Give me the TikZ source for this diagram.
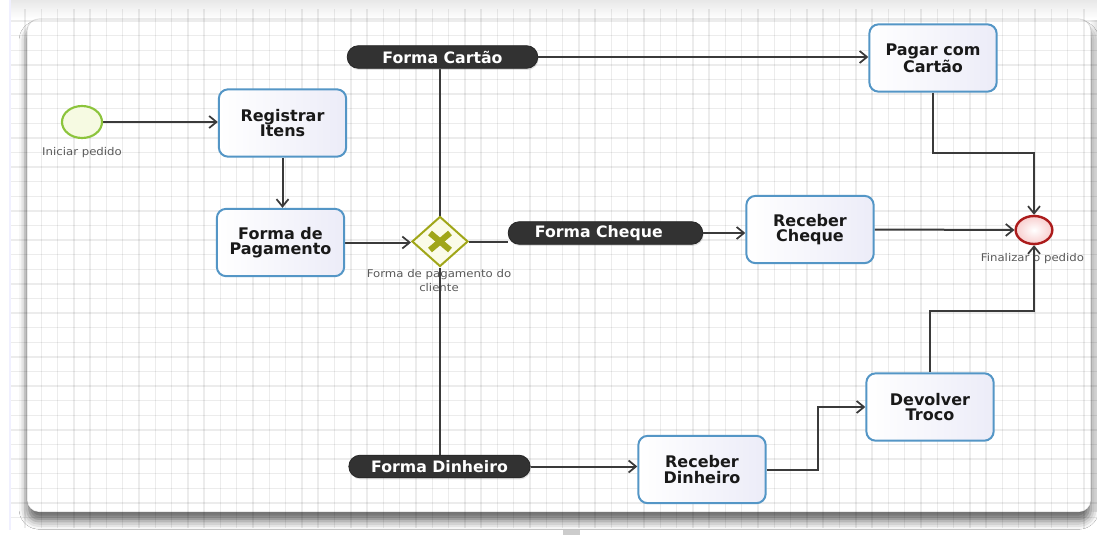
\documentclass[tikz,border=0pt]{standalone}
\usepackage{fontspec}
\setmainfont{DejaVu Sans}
\newfontfamily\lblfont[FakeStretch=1.1]{DejaVu Sans}
\usetikzlibrary{arrows.meta,shapes.geometric,shadows,shadows.blur,fadings,calc}

\definecolor{taskblue}{RGB}{84,150,198}
\definecolor{taskfill}{RGB}{236,236,248}
\definecolor{pillgray}{RGB}{50,50,50}
\definecolor{linegray}{RGB}{58,58,58}
\definecolor{gwolive}{RGB}{160,166,24}
\definecolor{gwfill}{RGB}{251,251,232}
\definecolor{startgreen}{RGB}{140,196,60}
\definecolor{startfill}{RGB}{246,250,226}
\definecolor{endred}{RGB}{172,28,28}
\definecolor{endfill}{RGB}{248,206,206}
\definecolor{lblgray}{RGB}{90,90,90}

\pgfdeclarelayer{bg}
\pgfdeclarelayer{edges}
\pgfsetlayers{bg,edges,main}

\tikzset{
  gridline/.style={draw=black, draw opacity=0.075, line width=1.1pt},
  task/.style={draw=taskblue, line width=1.5pt, rounded corners=7pt,
    left color=white, right color=taskfill,
    minimum width=95.5pt, minimum height=50.5pt, inner sep=2pt,
    align=center, text=black!90,
    font=\bfseries\fontsize{12}{11.4}\selectfont},
  pill/.style={fill=pillgray, draw=black!85, line width=0.6pt,
    rounded corners=8.5pt, minimum height=17pt, inner sep=0pt,
    text=white, font=\bfseries\fontsize{11.8}{12}\selectfont,
    drop shadow={shadow xshift=0.6pt, shadow yshift=-1.2pt, opacity=0.25}},
  lbl/.style={text=lblgray, font=\lblfont\fontsize{8}{10.5}\selectfont,
    align=center, inner sep=0pt},
  conn/.style={draw=linegray, line width=1.5pt},
  flow/.style={conn, -{Straight Barb[length=5.5pt,width=9pt,line width=1.3pt]}},
}

\begin{document}
\begin{tikzpicture}[x=0.75pt,y=-0.75pt]
\useasboundingbox (0,0) rectangle (1097,539);

% ---------- canvas ----------
\begin{pgfonlayer}{bg}
  \fill[white] (0,0) rectangle (1097,539);
  \path[fill=white, rounded corners=9pt,
    blur shadow={shadow xshift=0pt, shadow yshift=-7pt,
      shadow blur radius=6pt, shadow opacity=56}]
    (27,19) rectangle (1091,512);
  \begin{scope}
    \clip (10,9) rectangle (1097,528);
    \foreach \i in {0,...,67}
      \draw[gridline] (8.7+16.29*\i,0) -- (8.7+16.29*\i,528);
    \foreach \j in {-12,...,24}
      \draw[gridline] (10,181.7+14.6*\j) -- (1097,181.7+14.6*\j);
  \end{scope}
  \fill[black, fill opacity=0.09, path fading=south] (10,0) rectangle (1097,19);
  \fill[black, fill opacity=0.12, path fading=west] (1089,20) rectangle (1097,512);
  \draw[black, draw opacity=0.12, line width=0.8pt, rounded corners=9pt]
    (27,19) rectangle (1091,512);
  \draw[blue!6!white, line width=1pt] (10,0) -- (10,530);
  \fill[black!20] (563,530) rectangle (580,535);
\end{pgfonlayer}

% ---------- events and gateway ----------
\node[ellipse, draw=startgreen, line width=1.6pt, fill=startfill,
  minimum width=30pt, minimum height=24pt, inner sep=0pt] (start) at (82,122) {};
\node[ellipse, draw=endred, line width=1.8pt, inner color=white, outer color=endfill,
  minimum width=27.5pt, minimum height=21pt, inner sep=0pt] (endev) at (1034,230) {};
\node[diamond, draw=gwolive, line width=1.5pt, fill=gwfill,
  minimum width=42pt, minimum height=37.5pt, inner sep=0pt] (gw) at (440,241.5) {};
\draw[gwolive, line width=4.5pt] ($(gw)+(-10,-8.5)$) -- ($(gw)+(10,8.5)$);
\draw[gwolive, line width=4.5pt] ($(gw)+(-10,8.5)$) -- ($(gw)+(10,-8.5)$);

% ---------- tasks ----------
\node[task] (reg)    at (282.5,123)   {Registrar\\Itens};
\node[task] (fp)     at (280.5,242.5) {Forma de\\Pagamento};
\node[task] (pagar)  at (933,58)      {Pagar com\\Cartão};
\node[task] (rc)     at (810,229.5)   {Receber\\Cheque};
\node[task] (dev)    at (930,407)     {Devolver\\Troco};
\node[task] (rd)     at (702,469.5)   {Receber\\Dinheiro};

% ---------- branch labels ----------
\node[pill, minimum width=143pt] (cartao) at (442.5,57)  {Forma Cartão};
\node[pill, minimum width=146pt] (cheque) at (605.5,233) {\hspace*{-10pt}Forma Cheque};
\node[pill, minimum width=136pt] (din)    at (439.5,466.5) {Forma Dinheiro};

% ---------- captions and connectors ----------
\begin{pgfonlayer}{edges}
  \node[lbl] (lstart) at (82,153) {Iniciar pedido};
  \node[lbl] (lgw) at (439,280.5) {Forma de pagamento do\\cliente};
  \node[lbl] (lend) at (1032.5,258.5) {Finalizar o pedido};

  \draw[flow] (start.east) -- (start.east -| reg.west);
  \draw[flow] (reg.south) -- (reg.south |- fp.north);
  \draw[flow] (fp.east) -- (fp.east -| gw.west);
  \draw[conn] (gw.north) -- (gw.north |- cartao.south);
  \draw[conn] (gw.south) -- (gw.south |- din.north);
  \draw[conn] (gw.east) -- (gw.east -| cheque.west);
  \draw[flow] (cartao.east) -- (cartao.east -| pagar.west);
  \draw[flow] (cheque.east) -- (cheque.east -| rc.west);
  \draw[flow] (din.east) -- (din.east -| rd.west);
  \draw[flow] (rd.east) -- ++(51,0) |- (dev.west);
  \draw[flow] (dev.north) -- ++(0,-61) -| (endev.south);
  \draw[flow] (pagar.south) -- ++(0,60) -| (endev.north);
  \draw[flow] (rc.east) -- (endev.west);
\end{pgfonlayer}
\end{tikzpicture}
\end{document}
